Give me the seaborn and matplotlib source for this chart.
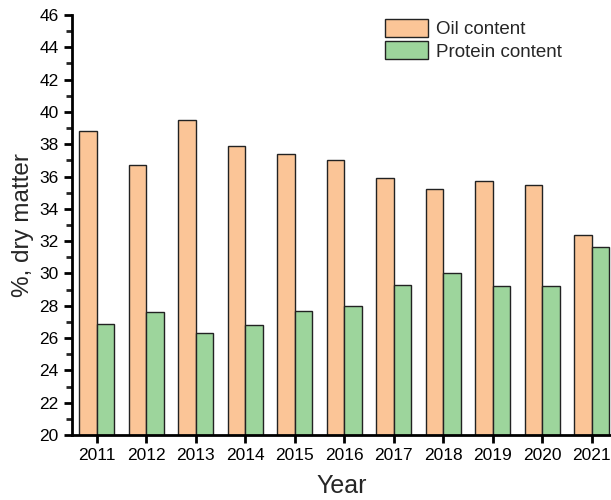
import matplotlib
matplotlib.use("Agg")
import matplotlib.pyplot as plt
import seaborn as sns
import pandas as pd
from matplotlib.ticker import MultipleLocator

years = ["2011", "2012", "2013", "2014", "2015", "2016", "2017", "2018", "2019", "2020", "2021"]
oil = [38.8, 36.7, 39.5, 37.9, 37.4, 37.0, 35.9, 35.2, 35.7, 35.5, 32.4]
protein = [26.9, 27.6, 26.3, 26.8, 27.7, 28.0, 29.3, 30.0, 29.25, 29.25, 31.65]

df = pd.DataFrame({
    "Year": years * 2,
    "value": oil + protein,
    "kind": ["Oil content"] * len(years) + ["Protein content"] * len(years),
})

sns.set_style("ticks")
plt.rcParams["font.family"] = ["Liberation Sans", "DejaVu Sans"]

fig = plt.figure(figsize=(6.11, 5.0), dpi=100)
ax = fig.add_axes([72 / 611, 65 / 500, (611 - 72) / 611, 420 / 500])

sns.barplot(data=df, x="Year", y="value", hue="kind",
            palette={"Oil content": "#FBC597", "Protein content": "#9DD59C"},
            saturation=1, width=0.7, edgecolor="#222222", linewidth=1.0, ax=ax)

ax.set_ylim(20, 46)
ax.set_xlim(-0.5, 10.39)
ax.yaxis.set_major_locator(MultipleLocator(2))
ax.yaxis.set_minor_locator(MultipleLocator(1))
ax.tick_params(axis="both", which="major", direction="out", length=6, width=2, labelsize=12.5, colors="black")
ax.tick_params(axis="y", which="minor", direction="out", length=4, width=2)
for s in ["top", "right"]:
    ax.spines[s].set_visible(False)
for s in ["left", "bottom"]:
    ax.spines[s].set_linewidth(2)
    ax.spines[s].set_color("black")

ax.set_xlabel("Year", fontsize=18, labelpad=8)
ax.set_ylabel("%, dry matter", fontsize=17.5, labelpad=4)

ax.legend(loc="upper left", bbox_to_anchor=(385 / 611, 1 - 19 / 500),
          bbox_transform=fig.transFigure, frameon=False, fontsize=13.5,
          borderpad=0, borderaxespad=0, handlelength=2.3, handleheight=1.1,
          handletextpad=0.4, labelspacing=0.15, title=None)

fig.savefig("out.png", dpi=100)
